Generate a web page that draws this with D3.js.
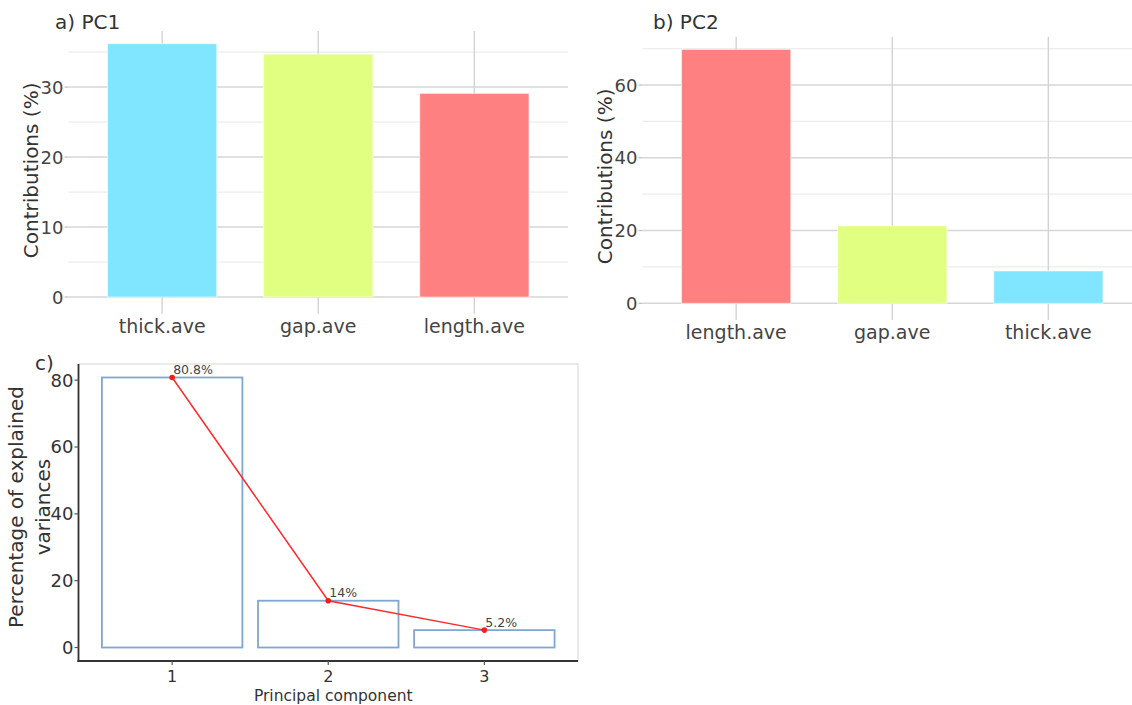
<!DOCTYPE html>
<html>
<head>
<meta charset="utf-8">
<script src="https://cdn.jsdelivr.net/npm/d3@7"></script>
<style>
  body { margin: 0; background: #fff; }
  text { font-family: "DejaVu Sans", Verdana, sans-serif; }
</style>
</head>
<body>
<svg id="chart" width="1132" height="705"></svg>
<script>
// contributions of the variables to PC1 / PC2 (%)
var pc1Vars = ["thick.ave", "gap.ave", "length.ave"];
var pc1Contrib = [36.2, 34.7, 29.1];
var pc1Ticks = [0, 10, 20, 30];
var pc1Minor = [5, 15, 25, 35];

var pc2Vars = ["length.ave", "gap.ave", "thick.ave"];
var pc2Contrib = [69.8, 21.3, 8.9];
var pc2Ticks = [0, 20, 40, 60];
var pc2Minor = [10, 30, 50, 70];

// scree plot
var pcs = ["1", "2", "3"];
var explVar = [80.8, 14.0, 5.2];
var explLabels = ["80.8%", "14%", "5.2%"];
var screeTicks = [0, 20, 40, 60, 80];

var varColors = { "thick.ave": "#80e6ff", "gap.ave": "#e1ff80", "length.ave": "#ff8080" };

var svg = d3.select("#chart");

function contribPanel(opt) {
    var g = svg.append("g");
    var maxV = d3.max(opt.values);
    var y = d3.scaleLinear()
        .domain([-0.05 * maxV, maxV * 1.05])
        .range([opt.bottom, opt.top]);
    var x = d3.scaleBand()
        .domain(opt.cats)
        .range([opt.left, opt.right])
        .paddingInner(0).paddingOuter(0.1);
    var bw = x.bandwidth();

    // minor then major horizontal grid
    g.selectAll(".minor").data(opt.minor).enter().append("line")
        .attr("x1", opt.left).attr("x2", opt.right)
        .attr("y1", function(d) { return y(d); }).attr("y2", function(d) { return y(d); })
        .style("stroke", "#ececec").style("stroke-width", 1.2);
    g.selectAll(".major").data(opt.ticks).enter().append("line")
        .attr("x1", opt.left).attr("x2", opt.right)
        .attr("y1", function(d) { return y(d); }).attr("y2", function(d) { return y(d); })
        .style("stroke", "#d6d6d6").style("stroke-width", 1.4);
    // vertical grid at categories
    g.selectAll(".vgrid").data(opt.cats).enter().append("line")
        .attr("x1", function(d) { return x(d) + bw / 2; })
        .attr("x2", function(d) { return x(d) + bw / 2; })
        .attr("y1", opt.top).attr("y2", opt.bottom + 4)
        .style("stroke", "#d3d3d3").style("stroke-width", 1.4);

    g.selectAll(".bar").data(opt.cats).enter().append("rect")
        .attr("x", function(d) { return x(d) + bw * 0.15; })
        .attr("width", bw * 0.7)
        .attr("y", function(d, i) { return y(opt.values[i]); })
        .attr("height", function(d, i) { return y(0) - y(opt.values[i]); })
        .style("fill", function(d) { return varColors[d]; })
        .style("stroke", "rgba(255,255,255,0.6)").style("stroke-width", 1);

    // y axis ticks + labels
    g.selectAll(".ytick").data(opt.ticks).enter().append("line")
        .attr("x1", opt.left - 4).attr("x2", opt.left)
        .attr("y1", function(d) { return y(d); }).attr("y2", function(d) { return y(d); })
        .style("stroke", "#bdbdbd").style("stroke-width", 1.2);
    g.selectAll(".ylab").data(opt.ticks).enter().append("text")
        .attr("x", opt.left - 5)
        .attr("y", function(d) { return y(d); })
        .attr("dy", "0.36em")
        .attr("text-anchor", "end")
        .style("font-size", "18px").style("fill", "#444")
        .text(function(d) { return d; });

    g.selectAll(".xlab").data(opt.cats).enter().append("text")
        .attr("x", function(d) { return x(d) + bw / 2; })
        .attr("y", opt.bottom + 23)
        .attr("text-anchor", "middle")
        .style("font-size", "19px").style("fill", "#444")
        .text(function(d) { return d; });

    g.append("text")
        .attr("transform", "translate(" + (opt.left - 31) + "," + ((opt.top + opt.bottom) / 2) + ") rotate(-90)")
        .attr("text-anchor", "middle")
        .style("font-size", "20px").style("fill", "#333")
        .text("Contributions (%)");

    g.append("text")
        .attr("x", opt.titleX).attr("y", opt.titleY)
        .style("font-size", "20px").style("fill", "#333")
        .text(opt.title);
}

contribPanel({
    cats: pc1Vars, values: pc1Contrib, ticks: pc1Ticks, minor: pc1Minor,
    left: 68.5, right: 568, top: 31, bottom: 309.7,
    title: "a) PC1", titleX: 55, titleY: 29
});

contribPanel({
    cats: pc2Vars, values: pc2Contrib, ticks: pc2Ticks, minor: pc2Minor,
    left: 642.5, right: 1142, top: 36.7, bottom: 316,
    title: "b) PC2", titleX: 653, titleY: 28.5
});

// ---- c) scree plot ----
var sc = { left: 78.5, right: 578, top: 364, bottom: 661 };
var gc = svg.append("g");
var maxE = d3.max(explVar);
var ys = d3.scaleLinear().domain([-0.05 * maxE, maxE * 1.05]).range([sc.bottom, sc.top]);
var xs = d3.scaleBand().domain(pcs).range([sc.left, sc.right]).paddingInner(0).paddingOuter(0.1);
var sbw = xs.bandwidth();

gc.append("rect")
    .attr("x", sc.left).attr("y", sc.top)
    .attr("width", sc.right - sc.left).attr("height", sc.bottom - sc.top)
    .style("fill", "none").style("stroke", "#dcdcdc").style("stroke-width", 1.2);

gc.selectAll(".sbar").data(pcs).enter().append("rect")
    .attr("x", function(d) { return xs(d) + sbw * 0.05; })
    .attr("width", sbw * 0.9)
    .attr("y", function(d, i) { return ys(explVar[i]); })
    .attr("height", function(d, i) { return ys(0) - ys(explVar[i]); })
    .style("fill", "none").style("stroke", "#7ea8d0").style("stroke-width", 1.8);

var line = d3.line()
    .x(function(d, i) { return xs(pcs[i]) + sbw / 2; })
    .y(function(d) { return ys(d); });
gc.append("path").datum(explVar).attr("d", line)
    .style("fill", "none").style("stroke", "#ff2a2a").style("stroke-width", 1.5);
gc.selectAll(".pt").data(explVar).enter().append("circle")
    .attr("cx", function(d, i) { return xs(pcs[i]) + sbw / 2; })
    .attr("cy", function(d) { return ys(d); })
    .attr("r", 2.8).style("fill", "#ff1a1a");
gc.selectAll(".plab").data(explVar).enter().append("text")
    .attr("x", function(d, i) { return xs(pcs[i]) + sbw / 2 + 1; })
    .attr("y", function(d) { return ys(d) - 3.5; })
    .style("font-size", "12.5px").style("fill", "#444")
    .text(function(d, i) { return explLabels[i]; });

// axes lines
gc.append("line").attr("x1", sc.left).attr("x2", sc.left).attr("y1", sc.top).attr("y2", sc.bottom + 1)
    .style("stroke", "#333").style("stroke-width", 1.8);
gc.append("line").attr("x1", sc.left - 1).attr("x2", sc.right).attr("y1", sc.bottom).attr("y2", sc.bottom)
    .style("stroke", "#333").style("stroke-width", 1.8);

gc.selectAll(".sytick").data(screeTicks).enter().append("line")
    .attr("x1", sc.left - 4).attr("x2", sc.left)
    .attr("y1", function(d) { return ys(d); }).attr("y2", function(d) { return ys(d); })
    .style("stroke", "#555").style("stroke-width", 1.2);
gc.selectAll(".sylab").data(screeTicks).enter().append("text")
    .attr("x", sc.left - 5)
    .attr("y", function(d) { return ys(d); })
    .attr("dy", "0.36em").attr("text-anchor", "end")
    .style("font-size", "18px").style("fill", "#333")
    .text(function(d) { return d; });

gc.selectAll(".sxtick").data(pcs).enter().append("line")
    .attr("x1", function(d) { return xs(d) + sbw / 2; })
    .attr("x2", function(d) { return xs(d) + sbw / 2; })
    .attr("y1", sc.bottom).attr("y2", sc.bottom + 4)
    .style("stroke", "#555").style("stroke-width", 1.2);
gc.selectAll(".sxlab").data(pcs).enter().append("text")
    .attr("x", function(d) { return xs(d) + sbw / 2; })
    .attr("y", 682)
    .attr("text-anchor", "middle")
    .style("font-size", "16px").style("fill", "#333")
    .text(function(d) { return d; });

gc.append("text")
    .attr("x", (sc.left + sc.right) / 2 + 5).attr("y", 700.5)
    .attr("text-anchor", "middle")
    .style("font-size", "15.5px").style("fill", "#333")
    .text("Principal component");

var ytitle = gc.append("text")
    .attr("transform", "translate(0," + 507 + ") rotate(-90)")
    .attr("text-anchor", "middle")
    .style("font-size", "20px").style("fill", "#333");
ytitle.append("tspan").attr("x", 0).attr("y", 22.5).text("Percentage of explained");
ytitle.append("tspan").attr("x", 0).attr("y", 50).text("variances");

gc.append("text")
    .attr("x", 35).attr("y", 370)
    .style("font-size", "20px").style("fill", "#333")
    .text("c)");
</script>
</body>
</html>
